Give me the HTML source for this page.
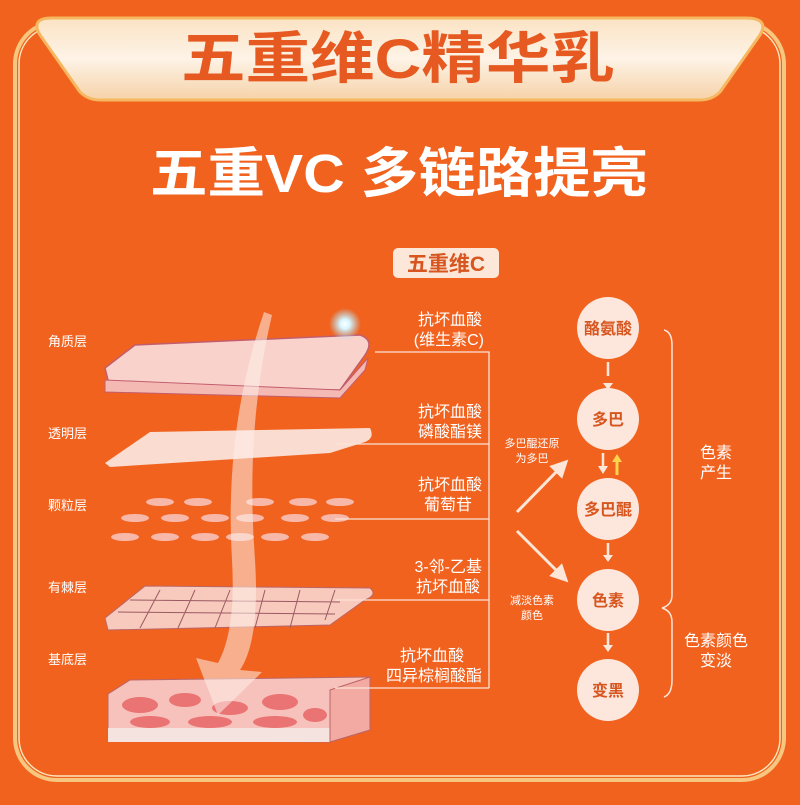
<!DOCTYPE html>
<html><head><meta charset="utf-8"><style>
html,body{margin:0;padding:0;}
body{width:800px;height:800px;background:#f1621f;overflow:hidden;}
svg text{font-family:"Liberation Sans","Noto Sans CJK SC",sans-serif;}
</style></head><body>
<svg width="800" height="800" viewBox="0 0 800 800" xmlns="http://www.w3.org/2000/svg">
<defs>
<linearGradient id="plate" x1="0" y1="0" x2="0" y2="1">
<stop offset="0" stop-color="#fbe3c4"/><stop offset="0.5" stop-color="#fdf3e6"/><stop offset="1" stop-color="#f6d2a8"/>
</linearGradient>
<radialGradient id="glow"><stop offset="0" stop-color="#ffffff"/><stop offset="0.3" stop-color="#d8f6ff"/><stop offset="1" stop-color="#9fe6ff" stop-opacity="0"/></radialGradient>
<marker id="ah" markerWidth="6" markerHeight="6" refX="3" refY="3" orient="auto"><path d="M0,0 L6,3 L0,6 Z" fill="#fde6d8"/></marker>
</defs>
<rect width="800" height="800" fill="#f1621f"/>
<!-- frame -->
<rect x="15" y="22" width="769" height="758" rx="42" fill="none" stroke="#f7c77f" stroke-width="4"/>
<rect x="19" y="26" width="761" height="750" rx="38" fill="none" stroke="#fde6bd" stroke-width="1.5"/>
<!-- header plate -->
<path d="M52,18 L745,18 Q770,18 760,35 L720,92 Q712,100 700,100 L100,100 Q88,100 80,92 L40,35 Q30,18 52,18 Z" fill="url(#plate)" stroke="#f5b860" stroke-width="3"/>
<text x="181" y="78" textLength="434" lengthAdjust="spacingAndGlyphs" font-size="56" font-weight="bold" fill="#e65a22">五重维C精华乳</text>
<text x="150" y="192" textLength="498" lengthAdjust="spacingAndGlyphs" font-size="54" font-weight="bold" fill="#ffffff">五重VC 多链路提亮</text>
<!-- sub label -->
<rect x="393" y="248" width="106" height="30" rx="5" fill="#fde7d8"/>
<text x="446" y="271" text-anchor="middle" font-size="21" font-weight="bold" fill="#d7561f">五重维C</text>
<!-- left labels -->
<g font-size="13" fill="#ffffff">
<text x="48" y="346">角质层</text><text x="48" y="438">透明层</text><text x="48" y="510">颗粒层</text><text x="48" y="592">有棘层</text><text x="48" y="664">基底层</text>
</g>
<!-- skin layers -->
<path d="M105,368 L135,345 L360,335 Q375,340 365,355 L340,390 L110,388 Z" fill="#f8d2cb" stroke="#c25d6d" stroke-width="1.5"/>
<path d="M105,380 L340,390 L368,358 L365,370 L340,398 L105,392 Z" fill="#f5b9b4" stroke="#c25d6d" stroke-width="1"/>
<path d="M105,463 L150,432 L370,428 Q375,438 365,442 L330,453 L110,467 Z" fill="#fbe3da" opacity="0.95"/>
<g fill="#f8b8a9">
<ellipse cx="160" cy="502" rx="14" ry="4"/><ellipse cx="198" cy="502" rx="14" ry="4"/><ellipse cx="260" cy="502" rx="14" ry="4"/><ellipse cx="303" cy="502" rx="14" ry="4"/><ellipse cx="340" cy="502" rx="14" ry="4"/>
<ellipse cx="135" cy="518" rx="14" ry="4"/><ellipse cx="175" cy="518" rx="14" ry="4"/><ellipse cx="215" cy="518" rx="14" ry="4"/><ellipse cx="250" cy="518" rx="14" ry="4"/><ellipse cx="295" cy="518" rx="14" ry="4"/><ellipse cx="335" cy="518" rx="14" ry="4"/>
<ellipse cx="125" cy="537" rx="14" ry="4"/><ellipse cx="165" cy="537" rx="14" ry="4"/><ellipse cx="205" cy="537" rx="14" ry="4"/><ellipse cx="240" cy="537" rx="14" ry="4"/><ellipse cx="275" cy="537" rx="14" ry="4"/><ellipse cx="315" cy="537" rx="14" ry="4"/>
</g>
<path d="M105,618 L145,586 L370,588 Q378,595 365,600 L330,625 L108,630 Z" fill="#f8c9bd" stroke="#b66" stroke-width="1"/>
<g stroke="#9b5a63" stroke-width="1" fill="none">
<path d="M130,600 L340,602 M118,612 L335,614 M160,590 L140,628 M195,590 L178,628 M230,590 L215,628 M265,590 L255,628 M300,590 L290,628 M335,590 L325,620"/>
</g>
<path d="M108,694 L130,680 L370,677 L370,730 L330,742 L108,740 Z" fill="#f7c2bb" stroke="#b66" stroke-width="1"/>
<rect x="108" y="728" width="222" height="14" fill="#f4e3df"/>
<path d="M330,690 L370,677 L370,730 L330,742 Z" fill="#f3aaa2" stroke="#b66" stroke-width="1"/>
<g fill="#ea7373">
<ellipse cx="140" cy="705" rx="18" ry="8"/><ellipse cx="185" cy="700" rx="16" ry="7"/><ellipse cx="230" cy="708" rx="18" ry="7"/><ellipse cx="280" cy="702" rx="18" ry="8"/><ellipse cx="150" cy="722" rx="20" ry="6"/><ellipse cx="210" cy="722" rx="22" ry="6"/><ellipse cx="275" cy="722" rx="22" ry="6"/><ellipse cx="315" cy="715" rx="12" ry="7"/>
</g>
<!-- big arrow -->
<path d="M272,315 Q245,430 255,560 Q260,640 240,670 L262,672 L218,715 L196,658 L218,663 Q236,630 232,560 Q224,430 264,312 Z" fill="#fdeee8" opacity="0.55"/>
<circle cx="345" cy="324" r="16" fill="url(#glow)"/>
<!-- right connector labels -->
<g font-size="16" fill="#ffffff" text-anchor="end">
<text x="482" y="325">抗坏血酸</text><text x="484" y="345">(维生素C)</text>
<text x="482" y="417">抗坏血酸</text><text x="482" y="437">磷酸酯镁</text>
<text x="482" y="490">抗坏血酸</text><text x="472" y="510">葡萄苷</text>
<text x="482" y="572">3-邻-乙基</text><text x="480" y="592">抗坏血酸</text>
<text x="464" y="661">抗坏血酸</text><text x="482" y="681">四异棕榈酸酯</text>
</g>
<g stroke="#fbe3d6" stroke-width="1.3" fill="none">
<path d="M375,352 L489,352 L489,688 M335,444 L489,444 M335,519 L489,519 M335,600 L489,600 M335,688 L489,688"/>
</g>
<!-- diagonal arrows -->
<line x1="517" y1="512" x2="562" y2="466" stroke="#fde6d8" stroke-width="3" marker-end="url(#ah)"/>
<line x1="517" y1="531" x2="562" y2="576" stroke="#fde6d8" stroke-width="3" marker-end="url(#ah)"/>
<g font-size="11" fill="#ffffff" text-anchor="middle">
<text x="532" y="447">多巴醌还原</text><text x="532" y="462">为多巴</text>
<text x="532" y="604">减淡色素</text><text x="532" y="619">颜色</text>
</g>
<!-- circles -->
<g fill="#fde6dc">
<circle cx="608" cy="328" r="31"/><circle cx="608" cy="419" r="31"/><circle cx="608" cy="509" r="31"/><circle cx="608" cy="600" r="31"/><circle cx="608" cy="690" r="31"/>
</g>
<g font-size="16" font-weight="bold" fill="#d7561f" text-anchor="middle">
<text x="608" y="334">酪氨酸</text><text x="608" y="425">多巴</text><text x="608" y="515">多巴醌</text><text x="608" y="606">色素</text><text x="608" y="696">变黑</text>
</g>
<g stroke="#fde6dc" stroke-width="2.5">
<line x1="608" y1="362" x2="608" y2="376"/><line x1="603" y1="453" x2="603" y2="466"/><line x1="608" y1="543" x2="608" y2="556"/><line x1="608" y1="633" x2="608" y2="646"/>
</g>
<g fill="#fde6dc">
<path d="M603,383 L613,383 L608,390 Z"/><path d="M598,466 L608,466 L603,474 Z"/><path d="M603,555 L613,555 L608,562 Z"/><path d="M603,645 L613,645 L608,652 Z"/>
</g>
<line x1="617" y1="461" x2="617" y2="475" stroke="#fcd34d" stroke-width="3"/>
<path d="M612,462 L622,462 L617,454 Z" fill="#fcd34d"/>
<!-- braces -->
<path d="M664,330 Q672,332 672,345 L672,595 Q672,605 662,608" stroke="#fde6dc" stroke-width="1.5" fill="none"/>
<path d="M662,608 Q672,611 672,622 L672,680 Q672,694 664,697" stroke="#fde6dc" stroke-width="1.5" fill="none"/>
<g font-size="16" fill="#ffffff" text-anchor="middle">
<text x="716" y="458">色素</text><text x="716" y="478">产生</text>
<text x="716" y="646">色素颜色</text><text x="716" y="666">变淡</text>
</g>
</svg>
</body></html>
